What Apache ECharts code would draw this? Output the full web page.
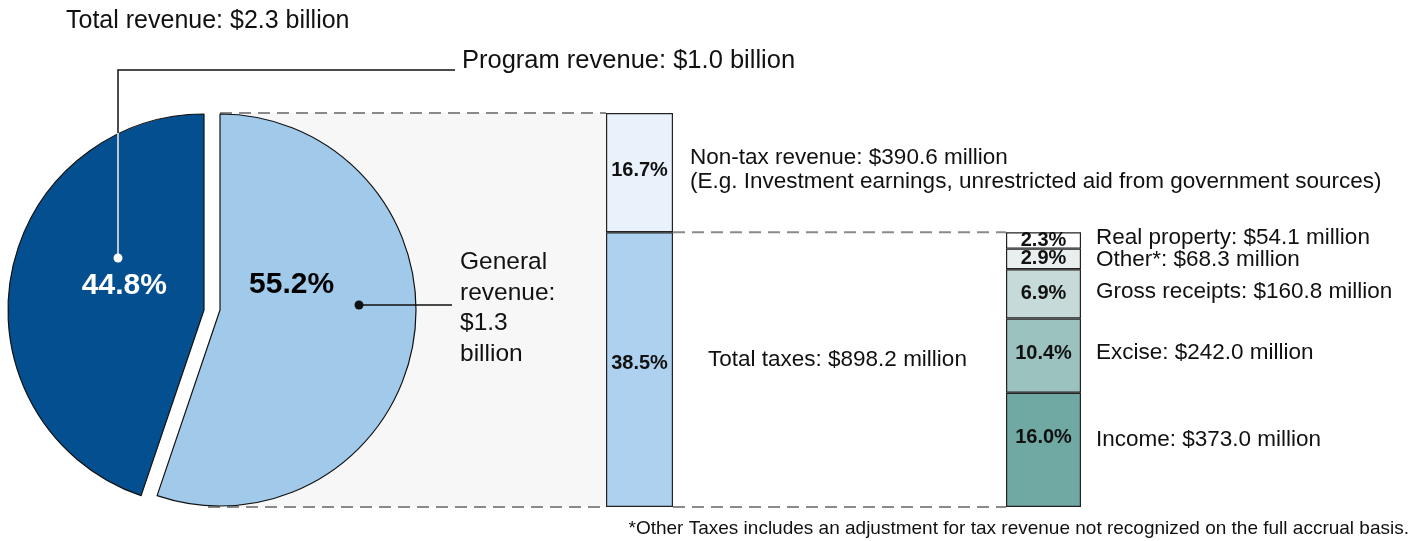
<!DOCTYPE html>
<html>
<head>
<meta charset="utf-8">
<title>Revenue</title>
<script src="https://cdn.jsdelivr.net/npm/echarts@6/dist/echarts.min.js"></script>
<style>
html, body { margin: 0; padding: 0; background: #fff; }
#main { width: 1412px; height: 541px; }
</style>
</head>
<body>
<div id="main"></div>
<script>
// 总收入
var pieNames = ['General revenue', 'Program revenue'];
var pieValues = [55.2, 44.8];
var pieAmounts = ['$1.3 billion', '$1.0 billion'];
var totalRevenue = '$2.3 billion';

// 一般收入
var generalNames = ['Total taxes', 'Non-tax revenue'];
var generalValues = [38.5, 16.7];
var generalAmounts = ['$898.2 million', '$390.6 million'];

// 税收
var taxNames = ['Income', 'Excise', 'Gross receipts', 'Other*', 'Real property'];
var taxValues = [16.0, 10.4, 6.9, 2.9, 2.3];
var taxAmounts = ['$373.0 million', '$242.0 million', '$160.8 million', '$68.3 million', '$54.1 million'];

var FONT = "'Liberation Sans', Arial, sans-serif";
var pieColors = ['#a0c9ea', '#044f8f'];
var generalColors = ['#aed1ef', '#e9f2fb'];
var taxColors = ['#70a9a4', '#9cc2bf', '#c6dad9', '#e9efef', '#ffffff'];

var myChart = echarts.init(document.getElementById('main'));

var pieR = 196;
var pieCx = 204, pieCy = 310, pieShift = 16;
var yMax = pieValues[0];

function pct(v) { return v.toFixed(1) + '%'; }

var series = [];
// 深色扇区 (Program revenue)
series.push({
	type: 'pie',
	center: [pieCx, pieCy],
	radius: pieR,
	startAngle: 90,
	clockwise: true,
	silent: true,
	animation: false,
	data: [
		{ value: pieValues[0], name: pieNames[0], itemStyle: { color: 'rgba(0,0,0,0)', borderWidth: 0 }, label: { show: false } },
		{ value: pieValues[1], name: pieNames[1], itemStyle: { color: pieColors[1], borderColor: '#111', borderWidth: 1.2 } }
	],
	label: {
		show: true, position: 'inside',
		formatter: function (p) { return pct(p.value); },
		color: '#fff', fontFamily: FONT, fontWeight: 'bold', fontSize: 30
	},
	labelLayout: { dx: 10, dy: -4 }
});
// 浅色扇区 (General revenue), 向右偏移
series.push({
	type: 'pie',
	center: [pieCx + pieShift, pieCy],
	radius: pieR,
	startAngle: 90,
	clockwise: true,
	silent: true,
	animation: false,
	data: [
		{ value: pieValues[0], name: pieNames[0], itemStyle: { color: pieColors[0], borderColor: '#111', borderWidth: 1.2 } },
		{ value: pieValues[1], name: pieNames[1], itemStyle: { color: 'rgba(0,0,0,0)', borderWidth: 0 }, label: { show: false } }
	],
	label: {
		show: true, position: 'inside',
		formatter: function (p) { return pct(p.value); },
		color: '#000', fontFamily: FONT, fontWeight: 'bold', fontSize: 30
	},
	labelLayout: { dx: -14, dy: -21 }
});

// 标签微调
var generalLabelDy = [-6, -2];
var taxLabelDy = [-12, -2, 0, 0, 0];

generalValues.forEach(function (v, i) {
	series.push({
		type: 'bar', xAxisIndex: 0, yAxisIndex: 0, stack: 'general',
		barWidth: '100%', silent: true, animation: false,
		data: [v],
		itemStyle: { color: generalColors[i], borderColor: '#222', borderWidth: 1.2 },
		label: {
			show: true, position: 'inside', formatter: function (p) { return pct(p.value); },
			color: '#111', fontFamily: FONT, fontWeight: 'bold', fontSize: 20
		},
		labelLayout: { dy: generalLabelDy[i] }
	});
});

taxValues.forEach(function (v, i) {
	series.push({
		type: 'bar', xAxisIndex: 1, yAxisIndex: 1, stack: 'tax',
		barWidth: '100%', silent: true, animation: false,
		data: [v],
		itemStyle: { color: taxColors[i], borderColor: '#222', borderWidth: 1.2 },
		label: {
			show: true, position: 'inside', formatter: function (p) { return pct(p.value); },
			color: '#111', fontFamily: FONT, fontWeight: 'bold', fontSize: 20
		},
		labelLayout: { dy: taxLabelDy[i] }
	});
});

var option = {
	animation: false,
	grid: [
		{ left: 606, top: 113, width: 67, height: 394 },
		{ left: 1006, top: 113, width: 75, height: 394 }
	],
	xAxis: [
		{ type: 'category', gridIndex: 0, data: ['general'], show: false },
		{ type: 'category', gridIndex: 1, data: ['tax'], show: false }
	],
	yAxis: [
		{ type: 'value', gridIndex: 0, min: 0, max: yMax, show: false },
		{ type: 'value', gridIndex: 1, min: 0, max: yMax, show: false }
	],
	series: series
};
myChart.setOption(option);

// 辅助线和文字
var yTop = myChart.convertToPixel({ yAxisIndex: 0 }, yMax);
var yMid = myChart.convertToPixel({ yAxisIndex: 0 }, generalValues[0]);
var yBot = myChart.convertToPixel({ yAxisIndex: 0 }, 0);
var b1L = 606, b1R = 673, b2L = 1006, b2R = 1081;

function dashLine(x1, y1, x2, y2) {
	return { type: 'line', z: 1, silent: true, shape: { x1: x1, y1: y1, x2: x2, y2: y2 },
		style: { stroke: '#8a8a8a', lineWidth: 2, lineDash: [12, 7] } };
}
function txt(s, x, y, size, opts) {
	opts = opts || {};
	return { type: 'text', z: 20, silent: true, style: {
		text: s, x: x, y: y, fill: opts.fill || '#111',
		font: (opts.bold ? 'bold ' : '') + size + 'px ' + FONT,
		textAlign: opts.align || 'left', textVerticalAlign: 'middle', lineHeight: opts.lh || size * 1.2
	} };
}

// 税收右侧标签位置
var taxLabelY = [];
var acc = 0;
taxValues.forEach(function (v) {
	taxLabelY.push(myChart.convertToPixel({ yAxisIndex: 1 }, acc + v / 2));
	acc += v;
});
var taxNudge = [-10, -3, -2, 1, -3];

var graphics = [
	{ type: 'rect', z: -10, silent: true, shape: { x: pieCx + pieShift, y: yTop, width: b1L - pieCx - pieShift, height: yBot - yTop },
		style: { fill: '#f7f7f7' } },
	dashLine(pieCx + pieShift, yTop, b1L, yTop),
	dashLine(pieCx + 4, yBot, b1L, yBot),
	dashLine(b1R, yMid, b2L, yMid),
	dashLine(b1R, yBot, b2L, yBot),
	// Program revenue 引线
	{ type: 'polyline', z: 15, silent: true, shape: { points: [[118, 258], [118, 70], [455, 70]] }, style: { stroke: '#111', lineWidth: 1.5, fill: null } },
	{ type: 'line', z: 16, silent: true, shape: { x1: 118, y1: 258, x2: 118, y2: 133 }, style: { stroke: '#fff', lineWidth: 1.5 } },
	{ type: 'circle', z: 16, silent: true, shape: { cx: 118, cy: 258, r: 4.5 }, style: { fill: '#fff' } },
	// General revenue 引线
	{ type: 'line', z: 15, silent: true, shape: { x1: 359, y1: 305, x2: 452, y2: 305 }, style: { stroke: '#111', lineWidth: 1.5 } },
	{ type: 'circle', z: 16, silent: true, shape: { cx: 359, cy: 305, r: 4.5 }, style: { fill: '#111' } },

	txt('Total revenue: ' + totalRevenue, 66, 21, 25),
	txt(pieNames[1] + ': ' + pieAmounts[1], 462, 61, 25.5),
	txt('General\nrevenue:\n' + pieAmounts[0].replace(' ', '\n'), 460, 308, 24.5, { lh: 30.5 }),
	txt(generalNames[1] + ': ' + generalAmounts[1], 690, 158, 22.5),
	txt('(E.g. Investment earnings, unrestricted aid from government sources)', 690, 182, 22.5),
	txt(generalNames[0] + ': ' + generalAmounts[0], 708, 360, 22.5),
	txt('*Other Taxes includes an adjustment for tax revenue not recognized on the full accrual basis.', 1409, 529, 19, { align: 'right' })
];
taxNames.forEach(function (n, i) {
	graphics.push(txt(n + ': ' + taxAmounts[i], 1096, taxLabelY[i] + taxNudge[i], 22.5));
});

myChart.setOption({ graphic: graphics });

window.addEventListener('resize', function () {
	myChart.resize();
});
</script>
</body>
</html>
